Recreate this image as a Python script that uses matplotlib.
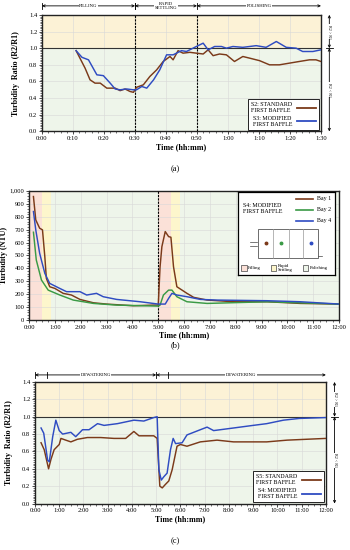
import matplotlib
matplotlib.use('Agg')
import matplotlib.pyplot as plt
from matplotlib.patches import Rectangle
from matplotlib.ticker import MultipleLocator, FixedLocator
import matplotlib.transforms as mtransforms

plt.rcParams['font.family'] = ['Liberation Serif', 'DejaVu Serif']

# ---------------- data ----------------
# Panel (a): time in minutes
a_t_s2 = [11, 13.9, 15.5, 17.1, 18.8, 20.9, 23.6, 25.2, 26.8, 28.4, 29.5, 30.5, 32.7, 34.8, 37, 39.1,
          41.3, 42.3, 43.9, 45.5, 47.7, 49.8, 52, 53.6, 55.2, 57.3, 59.5, 62.1, 64.8, 67, 70.2, 73.4,
          76.6, 79.8, 83, 86.3, 88.4, 90]
a_s2 = [0.97, 0.76, 0.62, 0.58, 0.58, 0.52, 0.52, 0.49, 0.51, 0.48, 0.47, 0.53, 0.56, 0.66, 0.74, 0.84,
        0.9, 0.86, 0.97, 0.94, 0.95, 0.94, 0.93, 0.98, 0.91, 0.93, 0.92, 0.84, 0.9, 0.88, 0.85, 0.8,
        0.8, 0.82, 0.84, 0.86, 0.86, 0.84]
a_t_s3 = [11, 12.9, 15, 17.7, 19.8, 22, 23.6, 25.2, 27.3, 29.5, 30.5, 32.2, 33.8, 36, 38, 40.2, 42.3,
          45, 46.6, 49.8, 52, 53.6, 55.7, 57.9, 59.5, 61.6, 64.8, 69.1, 72.3, 75.6, 78.8, 82, 84.1,
          87.4, 90]
a_s3 = [0.97, 0.89, 0.86, 0.68, 0.67, 0.58, 0.51, 0.5, 0.51, 0.5, 0.5, 0.54, 0.52, 0.62, 0.74, 0.92, 0.92,
        0.97, 0.96, 1.02, 1.06, 0.98, 1.02, 1.02, 1.0, 1.02, 1.01, 1.03, 1.01, 1.08, 1.01, 1.0, 0.96,
        0.96, 0.98]
a_xticklabels = ['0:00', '0:10', '0:20', '0:30', '0:40', '0:50', '1:00', '1:10', '1:20', '1:30']

# Panel (b): time in hours, turbidity NTU
b_t_bay1 = [0.17, 0.26, 0.41, 0.52, 0.61, 0.67, 0.8, 1.0, 1.32, 1.64, 1.97, 2.49, 3.0, 4.04, 4.8, 5.0,
            5.07, 5.14, 5.27, 5.4, 5.49, 5.59, 5.72, 5.92, 6.11, 6.37, 6.89, 7.92, 9.22, 10.5, 12]
b_bay1 = [956, 775, 711, 698, 491, 323, 258, 245, 207, 194, 160, 134, 124, 111, 116, 116,
          413, 568, 685, 646, 641, 413, 258, 232, 207, 176, 155, 142, 142, 129, 124]
b_t_bay2 = [0.17, 0.28, 0.48, 0.74, 1.19, 1.71, 2.49, 3.39, 5.0, 5.07, 5.2, 5.4, 5.53, 5.72, 6.11,
            6.89, 9.22, 12]
b_bay2 = [680, 465, 310, 232, 194, 155, 129, 116, 108, 116, 194, 232, 232, 181, 142, 129, 142, 124]
b_t_bay4 = [0.17, 0.26, 0.41, 0.61, 0.8, 1.19, 1.45, 1.97, 2.23, 2.61, 2.87, 3.39, 4.3, 5.0, 5.07,
            5.27, 5.4, 5.53, 5.72, 6.11, 6.63, 7.27, 9.22, 10.5, 12]
b_bay4 = [840, 698, 517, 362, 284, 245, 220, 220, 194, 207, 181, 160, 142, 124, 124, 124, 168, 207,
          194, 181, 160, 155, 150, 142, 124]
b_yticklabels = ['0', '100', '200', '300', '400', '500', '600', '700', '800', '900', '1,000']
hour_labels = ['%d:00' % h for h in range(13)]

# Panel (c): time in hours, ratio
c_t_s5 = [0.25, 0.38, 0.56, 0.66, 0.79, 1.0, 1.07, 1.27, 1.48, 1.75, 2.16, 2.71, 3.26, 3.74, 4.08,
          4.29, 4.9, 5.04, 5.15, 5.25, 5.38, 5.52, 5.66, 5.86, 6.0, 6.27, 6.82, 7.51, 8.19, 9.56,
          10.4, 11.2, 12]
c_s5 = [0.70, 0.62, 0.40, 0.51, 0.62, 0.68, 0.75, 0.73, 0.71, 0.74, 0.76, 0.76, 0.75, 0.75, 0.83,
        0.78, 0.78, 0.75, 0.20, 0.18, 0.22, 0.26, 0.39, 0.66, 0.68, 0.66, 0.71, 0.73, 0.71, 0.71,
        0.73, 0.74, 0.75]
c_t_s4 = [0.25, 0.36, 0.52, 0.59, 0.73, 0.86, 1.0, 1.14, 1.48, 1.68, 1.96, 2.23, 2.58, 2.85, 3.4,
          4.08, 4.49, 4.9, 5.04, 5.11, 5.21, 5.32, 5.45, 5.59, 5.7, 5.8, 6.07, 6.27, 6.82, 7.1,
          7.37, 8.19, 9.0, 9.56, 10.25, 10.9, 12]
c_s4 = [0.87, 0.81, 0.50, 0.48, 0.77, 0.96, 0.84, 0.80, 0.82, 0.77, 0.85, 0.85, 0.92, 0.90, 0.92,
        0.96, 0.95, 0.99, 1.0, 0.39, 0.27, 0.31, 0.35, 0.62, 0.75, 0.69, 0.70, 0.79, 0.85, 0.88,
        0.84, 0.87, 0.90, 0.92, 0.96, 0.98, 0.99]
ratio_ticklabels = ['0.0', '0.2', '0.4', '0.6', '0.8', '1.0', '1.2', '1.4']

# ---------------- style ----------------
BROWN = '#7b3a1a'
BLUE = '#2f4cc2'
GREEN = '#3a9a45'
YEL = '#fcf2d6'
GRN = '#eef5ea'
PINK = '#fbe1d8'
LYEL = '#fdf6cc'
FS_TICK = 4.7
FS_LAB = 5.8
LW = 1.05

fig = plt.figure(figsize=(3.5, 5.5), dpi=100)


def common(ax):
    ax.tick_params(labelsize=FS_TICK, length=2, width=0.5, pad=1.5)
    ax.tick_params(which='minor', length=1.2, width=0.4)
    ax.grid(True, color='#d8d8d8', lw=0.4, zorder=0.5)
    ax.set_axisbelow(True)
    for s in ax.spines.values():
        s.set_linewidth(1.0)
        s.set_color('#222222')


def ratio_axes(ax, xmax, ylab_x):
    ax.set_ylim(0, 1.4)
    ax.set_xlim(0, xmax)
    ax.axhspan(1.0, 1.4, color=YEL, zorder=0, lw=0)
    ax.axhspan(0.0, 1.0, color=GRN, zorder=0, lw=0)
    ax.axhline(1.0, color='#333333', lw=0.8, zorder=1.5)
    ax.yaxis.set_major_locator(FixedLocator([0, 0.2, 0.4, 0.6, 0.8, 1.0, 1.2, 1.4]))
    ax.set_yticklabels(ratio_ticklabels)
    ax.yaxis.set_minor_locator(MultipleLocator(0.02))
    ax.set_ylabel('Turbidity  Ratio (R2/R1)', fontsize=FS_LAB, fontweight='bold')
    ax.yaxis.set_label_coords(ylab_x, 0.5)
    ax.set_xlabel('Time (hh:mm)', fontsize=FS_LAB, fontweight='bold', labelpad=1)
    common(ax)


def side_arrows(ax, xf):
    tr = mtransforms.blended_transform_factory(ax.transAxes, ax.transData)
    for y0, y1, lab in [(1.4, 1.0, 'R2 > R1'), (1.0, 0.0, 'R2 < R1')]:
        ax.annotate('', xy=(xf, y0), xytext=(xf, y1), xycoords=tr,
                    arrowprops=dict(arrowstyle='<->', lw=0.6, color='k', shrinkA=0, shrinkB=0,
                                    mutation_scale=4), annotation_clip=False)
        ax.text(xf, (y0 + y1) / 2, lab, transform=tr, rotation=270, fontsize=3, ha='center',
                va='center', bbox=dict(fc='white', ec='none', pad=0.3), clip_on=False)
    ax.plot([xf - 0.012, xf + 0.012], [1.0, 1.0], transform=tr, color='k', lw=0.6, clip_on=False)


def top_span(ax, x0, x1, text, y, bars=True):
    tr = mtransforms.blended_transform_factory(ax.transData, ax.transAxes)
    ax.annotate('', xy=(x0, y), xytext=(x1, y), xycoords=tr,
                arrowprops=dict(arrowstyle='<->', lw=0.6, color='k', shrinkA=0, shrinkB=0,
                                mutation_scale=4), annotation_clip=False)
    ax.text((x0 + x1) / 2, y, text, transform=tr, fontsize=3.4, ha='center', va='center',
            linespacing=1.0, bbox=dict(fc='white', ec='none', pad=0.4), clip_on=False)
    if bars:
        for xx in (x0, x1):
            ax.plot([xx, xx], [y - 0.025, y + 0.025], transform=tr, color='k', lw=0.6,
                    clip_on=False)


def ratio_legend(ax):
    leg = ax.legend(loc='lower right', markerfirst=False, fontsize=4.3, fancybox=False,
                    edgecolor='#222222', framealpha=1, handlelength=3.2, borderaxespad=0.25,
                    labelspacing=0.5, borderpad=0.5)
    leg.get_frame().set_linewidth(0.7)
    for ln in leg.get_lines():
        ln.set_linewidth(1.3)


# ---------------- panel (a) ----------------
axa = fig.add_axes([0.12, 0.761, 0.797, 0.212])
ratio_axes(axa, 90, -0.079)
axa.xaxis.set_major_locator(FixedLocator(list(range(0, 91, 10))))
axa.set_xticklabels(a_xticklabels)
axa.xaxis.set_minor_locator(MultipleLocator(2))
axa.axvline(30, color='k', lw=0.8, ls=(0, (2, 1)), zorder=3)
axa.axvline(50, color='k', lw=0.8, ls=(0, (2, 1)), zorder=3)
axa.plot(a_t_s2, a_s2, color=BROWN, lw=LW, label='S2: STANDARD\nFIRST BAFFLE', zorder=4)
axa.plot(a_t_s3, a_s3, color=BLUE, lw=LW, label='S3: MODIFIED\nFIRST BAFFLE', zorder=4)
ratio_legend(axa)
top_span(axa, 0, 30, 'FILLING', 1.077)
top_span(axa, 30, 50, 'RAPID\nSETTLING', 1.077)
top_span(axa, 50, 90, 'POLISHING', 1.077, bars=False)
side_arrows(axa, 1.03)
fig.text(0.5, 1 - 169 / 550, '(a)', ha='center', va='center', fontsize=6)

# ---------------- panel (b) ----------------
axb = fig.add_axes([0.083, 0.418, 0.886, 0.235])
axb.set_xlim(0, 12)
axb.set_ylim(0, 1000)
for x0, x1, c in [(0, 0.5, PINK), (0.5, 0.833, LYEL), (0.833, 5, GRN),
                  (5, 5.5, PINK), (5.5, 5.833, LYEL), (5.833, 12, GRN)]:
    axb.axvspan(x0, x1, color=c, zorder=0, lw=0)
axb.xaxis.set_major_locator(FixedLocator(list(range(13))))
axb.set_xticklabels(hour_labels)
axb.xaxis.set_minor_locator(MultipleLocator(0.25))
axb.yaxis.set_major_locator(FixedLocator(list(range(0, 1001, 100))))
axb.set_yticklabels(b_yticklabels)
axb.yaxis.set_minor_locator(MultipleLocator(20))
common(axb)
axb.axvline(5, color='k', lw=0.8, ls=(0, (2, 1)), zorder=3)
axb.plot(b_t_bay1, b_bay1, color=BROWN, lw=LW, zorder=4)
axb.plot(b_t_bay2, b_bay2, color=GREEN, lw=LW, zorder=4)
axb.plot(b_t_bay4, b_bay4, color=BLUE, lw=LW, zorder=4)
axb.set_ylabel('Turbidity (NTU)', fontsize=FS_LAB, fontweight='bold')
axb.yaxis.set_label_coords(-0.068, 0.5)
axb.set_xlabel('Time (hh:mm)', fontsize=FS_LAB, fontweight='bold', labelpad=1)

# custom legend box
lg = axb.inset_axes([0.674, 0.349, 0.313, 0.643])
lg.set_xlim(0, 1)
lg.set_ylim(0, 1)
lg.set_xticks([])
lg.set_yticks([])
lg.set_zorder(6)
for s in lg.spines.values():
    s.set_linewidth(0.9)
lg.text(0.05, 0.80, 'S4: MODIFIED\nFIRST BAFFLE', fontsize=4.3, va='center', ha='left',
        linespacing=1.1)
for yy, c, lab in [(0.92, BROWN, 'Bay 1'), (0.785, GREEN, 'Bay 2'), (0.65, BLUE, 'Bay 4')]:
    lg.plot([0.6, 0.77], [yy, yy], color=c, lw=1.2)
    lg.text(0.81, yy, lab, fontsize=4.3, va='center', ha='left')
lg.add_patch(Rectangle((0.206, 0.205), 0.619, 0.35, fill=False, ec='#555555', lw=0.6))
for xd in (0.36, 0.526, 0.67):
    lg.plot([xd, xd], [0.205, 0.555], color='#999999', lw=0.5)
for xd, c in [(0.289, BROWN), (0.443, GREEN), (0.753, BLUE)]:
    lg.plot([xd], [0.38], 'o', color=c, ms=1.8)
lg.plot([0.12, 0.2], [0.40, 0.40], color='#444444', lw=0.5)
lg.plot([0.12, 0.2], [0.35, 0.35], color='#444444', lw=0.5)
lg.plot([0.825, 0.86], [0.23, 0.23], color='#444444', lw=0.5)
for xs, lab, fc in [(0.035, 'Filling', PINK), (0.34, 'Rapid\nSettling', LYEL),
                    (0.67, 'Polishing', GRN)]:
    lg.add_patch(Rectangle((xs, 0.045), 0.055, 0.08, fc=fc, ec='#444444', lw=0.5))
    lg.text(xs + 0.07, 0.085, lab, fontsize=3.4, va='center', ha='left', linespacing=0.8)
fig.text(0.5, 1 - 345 / 550, '(b)', ha='center', va='center', fontsize=6)

# ---------------- panel (c) ----------------
axc = fig.add_axes([0.1, 0.0845, 0.831, 0.221])
ratio_axes(axc, 12, -0.076)
axc.xaxis.set_major_locator(FixedLocator(list(range(13))))
axc.set_xticklabels(hour_labels)
axc.xaxis.set_minor_locator(MultipleLocator(0.25))
axc.plot(c_t_s5, c_s5, color=BROWN, lw=LW, label='S5: STANDARD\nFIRST BAFFLE', zorder=4)
axc.plot(c_t_s4, c_s4, color=BLUE, lw=LW, label='S4: MODIFIED\nFIRST BAFFLE', zorder=4)
ratio_legend(axc)
top_span(axc, 0, 5, 'DEWATERING', 1.058)
top_span(axc, 5, 12, 'DEWATERING', 1.058, bars=False)
trc = mtransforms.blended_transform_factory(axc.transData, axc.transAxes)
for xx in (0.5, 5.5):
    axc.plot([xx, xx], [1.058 - 0.025, 1.058 + 0.025], transform=trc, color='k', lw=0.6,
             clip_on=False)
side_arrows(axc, 1.03)
fig.text(0.5, 1 - 541 / 550, '(c)', ha='center', va='center', fontsize=6)

fig.savefig('out.png', dpi=100, facecolor='white')
